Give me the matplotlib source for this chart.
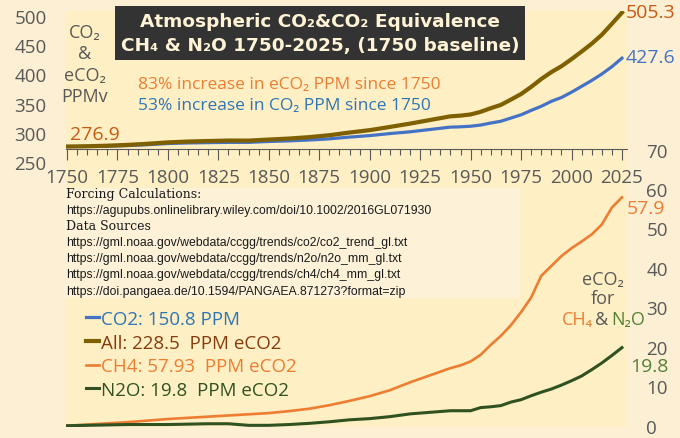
import matplotlib
matplotlib.use('Agg')
import matplotlib.pyplot as plt
from matplotlib.ticker import MultipleLocator
from matplotlib.patches import Rectangle

# data (1750 baseline)
years = [1750, 1760, 1770, 1780, 1790, 1800, 1810, 1820, 1830, 1840, 1850, 1860,
         1870, 1880, 1890, 1900, 1910, 1920, 1930, 1940, 1945, 1950, 1955, 1960,
         1965, 1970, 1975, 1980, 1985, 1990, 1995, 2000, 2005, 2010, 2015, 2020, 2025]

co2 = [276.9, 277.0, 277.5, 278.5, 280.0, 282.0, 283.0, 283.5, 284.0, 284.0, 285.5, 286.5,
       288.0, 290.0, 293.0, 295.5, 299.0, 302.0, 306.0, 310.0, 310.5, 311.5, 313.5, 317.0,
       320.0, 325.5, 331.0, 338.5, 345.5, 354.0, 360.5, 369.5, 379.5, 389.5, 400.5, 413.0, 427.6]

all_eco2 = [276.9, 277.4, 278.3, 279.7, 281.6, 284.0, 285.4, 286.3, 287.1, 287.0, 288.8, 290.5,
            292.9, 296.2, 300.8, 304.8, 310.3, 316.0, 322.2, 328.4, 329.6, 331.6, 336.1, 342.3,
            347.9, 357.0, 366.4, 378.6, 392.0, 403.8, 413.8, 425.9, 438.8, 452.2, 467.4, 486.1, 505.3]

ch4 = [0.0, 0.3, 0.6, 0.9, 1.3, 1.7, 2.0, 2.3, 2.6, 2.9, 3.2, 3.7,
       4.3, 5.2, 6.3, 7.5, 9.0, 11.0, 12.8, 14.6, 15.3, 16.3, 18.0, 20.5,
       22.8, 25.5, 28.8, 32.5, 38.0, 40.5, 43.0, 45.0, 46.7, 48.5, 51.0, 55.3, 57.9]

n2o = [0.0, 0.1, 0.2, 0.3, 0.3, 0.3, 0.4, 0.5, 0.5, 0.1, 0.1, 0.3,
       0.6, 1.0, 1.5, 1.8, 2.3, 3.0, 3.4, 3.8, 3.8, 3.8, 4.6, 4.8,
       5.1, 6.0, 6.6, 7.6, 8.5, 9.3, 10.3, 11.4, 12.6, 14.2, 15.9, 17.8, 19.8]

legend_labels = ['CO2: 150.8 PPM', 'All: 228.5  PPM eCO2',
                 'CH4: 57.93  PPM eCO2', 'N2O: 19.8  PPM eCO2']

sources = [
    ('Forcing Calculations:', 'serif'),
    ('https://agupubs.onlinelibrary.wiley.com/doi/10.1002/2016GL071930', 'sans'),
    ('Data Sources', 'serif'),
    ('https://gml.noaa.gov/webdata/ccgg/trends/co2/co2_trend_gl.txt', 'sans'),
    ('https://gml.noaa.gov/webdata/ccgg/trends/n2o/n2o_mm_gl.txt', 'sans'),
    ('https://gml.noaa.gov/webdata/ccgg/trends/ch4/ch4_mm_gl.txt', 'sans'),
    ('https://doi.pangaea.de/10.1594/PANGAEA.871273?format=zip', 'sans'),
]

BG = '#fcefd3'
PLOT = '#ffefc4'
BOX = '#fdf1d8'
GRAY = '#595959'
C_CO2 = '#4472c4'
C_ALL = '#7f6000'
C_CH4 = '#ed7d31'
C_N2O = '#2f5220'

plt.rcParams['font.family'] = ['Open Sans', 'DejaVu Sans']

W, H = 680, 439
fig = plt.figure(figsize=(6.8, 4.39), dpi=100, facecolor=BG)


def px(x0, y0, x1, y1):
    return [x0 / W, 1 - y1 / H, (x1 - x0) / W, (y1 - y0) / H]


def fy(y):
    return 1 - y / H


# lower panel: CH4 and N2O eCO2
ax_bot = fig.add_axes(px(66, 150.6, 627, 428.3))
ax_bot.set_facecolor(PLOT)
l_ch4, = ax_bot.plot(years, ch4, color=C_CH4, lw=1.9)
l_n2o, = ax_bot.plot(years, n2o, color=C_N2O, lw=2.2)
ax_bot.set_xlim(1749.5, 2027.5)
ax_bot.set_ylim(-0.4, 70)
ax_bot.set_xticks([])
ax_bot.yaxis.tick_right()
ax_bot.set_yticks(range(0, 71, 10))
ax_bot.tick_params(axis='y', length=0, pad=14, labelsize=13.5, labelcolor=GRAY)
for s in ax_bot.spines.values():
    s.set_visible(False)

# upper panel: CO2 and all
ax_top = fig.add_axes(px(66, 12, 627, 163.3))
ax_top.set_facecolor(PLOT)
l_co2, = ax_top.plot(years, co2, color=C_CO2, lw=2.3, zorder=2)
l_all, = ax_top.plot(years, all_eco2, color=C_ALL, lw=3.0, zorder=3)
ax_top.set_xlim(1749.5, 2027.5)
ax_top.set_ylim(250, 508)
ax_top.set_yticks(range(250, 501, 50))
ax_top.xaxis.set_major_locator(MultipleLocator(25))
ax_top.xaxis.set_minor_locator(MultipleLocator(5))
ax_top.set_xticks(range(1750, 2026, 25))
ax_top.tick_params(axis='y', length=0, pad=14, labelsize=13.5, labelcolor=GRAY)
ax_top.tick_params(axis='x', which='major', length=8, width=0.8, color=GRAY,
                   pad=6, labelsize=13.5, labelcolor=GRAY)
ax_top.tick_params(axis='x', which='minor', length=4, width=0.8, color=GRAY)
for k in ['top', 'right', 'left']:
    ax_top.spines[k].set_visible(False)
ax_top.spines['bottom'].set_position(('data', 272.7))
ax_top.spines['bottom'].set_color(GRAY)
ax_top.spines['bottom'].set_linewidth(0.8)

# end labels
ax_top.annotate(f'{all_eco2[0]}', xy=(years[0], all_eco2[0]), xytext=(3, 13),
                textcoords='offset pixels', ha='left', va='center',
                fontsize=14, color='#c55a11', annotation_clip=False)
ax_top.annotate(f'{all_eco2[-1]}', xy=(years[-1], all_eco2[-1]), xytext=(4, 1),
                textcoords='offset pixels', ha='left', va='center',
                fontsize=14, color='#c55a11', annotation_clip=False)
ax_top.annotate(f'{co2[-1]}', xy=(years[-1], co2[-1]), xytext=(4, 1),
                textcoords='offset pixels', ha='left', va='center',
                fontsize=14, color=C_CO2, annotation_clip=False)
ax_bot.annotate(f'{ch4[-1]}', xy=(years[-1], ch4[-1]), xytext=(5, -11),
                textcoords='offset pixels', ha='left', va='center',
                fontsize=14, color=C_CH4, annotation_clip=False)
ax_bot.annotate(f'{n2o[-1]}', xy=(years[-1], n2o[-1]), xytext=(8, -18),
                textcoords='offset pixels', ha='left', va='center',
                fontsize=14, color='#548235', annotation_clip=False)

# source text box
fig.patches.append(Rectangle((65 / W, fy(299)), (520 - 65) / W, (299 - 189) / H,
                             transform=fig.transFigure, facecolor=BOX,
                             edgecolor='none', zorder=1))
y_src = [195, 211, 227, 243, 259, 275, 292]
for (txt, kind), yy in zip(sources, y_src):
    if kind == 'serif':
        fig.text(66 / W, fy(yy), txt, family='DejaVu Serif', fontsize=9,
                 color='#1a1a1a', va='center', ha='left')
    else:
        fig.text(66 / W, fy(yy), txt, family='Liberation Sans', fontsize=8.8,
                 color='#1a1a1a', va='center', ha='left')

# title box
fig.text(320 / W, fy(34), 'Atmospheric CO₂&CO₂ Equivalence\nCH₄ & N₂O 1750-2025, (1750 baseline)',
         family='DejaVu Sans', fontweight='bold', fontsize=13.3, color='#fff3d6',
         ha='center', va='center', linespacing=1.45,
         bbox=dict(boxstyle='square,pad=0.3', facecolor='#333333', edgecolor='none'))

# axis captions
fig.text(85 / W, fy(65), 'CO₂\n&\neCO₂\nPPMv', fontsize=13, color=GRAY,
         ha='center', va='center', linespacing=1.25)
fig.text(138 / W, fy(85), '83% increase in eCO₂ PPM since 1750', fontsize=12.5,
         color=C_CH4, ha='left', va='center')
fig.text(138 / W, fy(106), '53% increase in CO₂ PPM since 1750', fontsize=12.5,
         color='#2e75b6', ha='left', va='center')

fig.text(603 / W, fy(280), 'eCO₂', fontsize=13, color=GRAY, ha='center', va='center')
fig.text(603 / W, fy(299), 'for', fontsize=13, color=GRAY, ha='center', va='center')
fig.text(593 / W, fy(320), 'CH₄', fontsize=13, color=C_CH4, ha='right', va='center')
fig.text(602 / W, fy(320), '&', fontsize=13, color=GRAY, ha='center', va='center')
fig.text(611 / W, fy(320), 'N₂O', fontsize=13, color='#548235', ha='left', va='center')

# legend
leg = ax_bot.legend([l_co2, l_all, l_ch4, l_n2o], legend_labels,
                    loc='upper left', bbox_to_anchor=(86 / W, fy(311)),
                    bbox_transform=fig.transFigure, frameon=False,
                    fontsize=13.5, handlelength=0.7, handletextpad=0.1,
                    labelspacing=0.3, borderpad=0, borderaxespad=0)
for t, c in zip(leg.get_texts(), ['#2e75b6', '#843c0c', C_CH4, C_N2O]):
    t.set_color(c)

fig.savefig('out.png', dpi=100, facecolor=BG)
